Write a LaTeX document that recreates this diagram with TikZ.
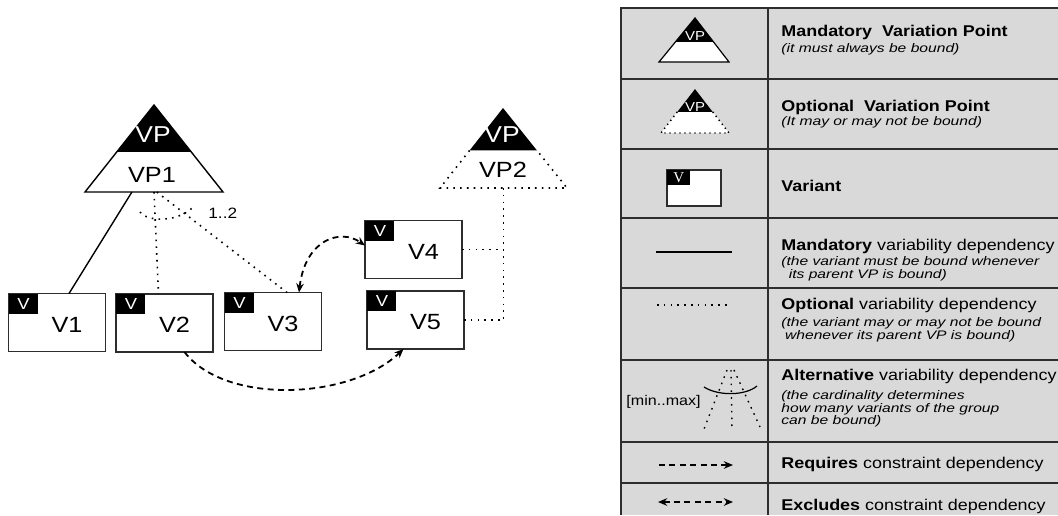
\documentclass[tikz,border=0pt]{standalone}
\usepackage{fontspec}
\setmainfont{Liberation Sans}[FakeStretch=1.15]
\newfontfamily\remarkfont{Liberation Sans}[FakeStretch=1.26]
\newfontfamily\legendserif{Liberation Serif}
\usetikzlibrary{arrows.meta,calc}
\definecolor{tablegray}{RGB}{217,217,217}
\definecolor{edgegray}{RGB}{45,45,45}
\lineskiplimit=-5pt
\tikzset{
  >={Stealth[length=4.6pt,width=3.8pt,inset=1.5pt]},
  variant/.style = {
    draw=edgegray, line width=0.8pt, fill=white,
    minimum width=48.5pt, minimum height=29pt,
    inner sep=0pt, outer sep=0pt
  },
  vtab/.style = {
    anchor=north west, fill=black, text=white, inner sep=0pt,
    minimum width=14.5pt, minimum height=10pt,
    font=\fontsize{8}{8}\selectfont
  },
  vname/.style = {anchor=center, xshift=5pt, yshift=-1pt, font=\fontsize{11}{11}\selectfont},
  vpmark/.style = {anchor=base, inner sep=0pt, text=white, font=\fontsize{11.5}{11.5}\selectfont},
  vpname/.style = {anchor=base, inner sep=0pt, font=\fontsize{11}{11}\selectfont},
  mandatory/.style = {line width=0.7pt},
  optional/.style = {line width=0.8pt, dash pattern=on 0.8pt off 2.6pt},
  requires/.style = {line width=0.9pt, dash pattern=on 3pt off 2.2pt, ->},
  excludes/.style = {line width=0.9pt, dash pattern=on 3pt off 2.2pt, <->},
  tableline/.style = {draw=edgegray, line width=1pt},
  headline/.style = {anchor=base west, inner sep=0pt, font=\fontsize{7.8}{7.8}\selectfont},
  % multi-line remarks sit on the baseline of their last line
  remark/.style = {
    anchor=base west, inner sep=0pt, align=left,
    font=\remarkfont\fontsize{6.2}{6.25}\selectfont\itshape
  }
}

\begin{document}
\begin{tikzpicture}[x=0.5pt,y=-0.5pt]
  \useasboundingbox (0,0) rectangle (1058,515);
  % legend table
  \fill[tablegray] (621,8) rectangle (1058,515);
  \draw[tableline] (1058,8) -- (621,8) -- (621,515);
  \draw[tableline] (768,8) -- (768,515);
  \foreach \y in {79,149,218,288,360,442,483} {%
    \draw[tableline] (621,\y) -- (1058,\y);
  }
  % VP1
  \coordinate (VP1) at (154,105);
  \coordinate (VP1l) at (85,192);
  \coordinate (VP1r) at (223,192);
  \filldraw[fill=white, line width=0.7pt] (VP1) -- (VP1l) -- (VP1r) -- cycle;
  \fill (VP1) -- ($(VP1)!0.54!(VP1l)$) -- ($(VP1)!0.54!(VP1r)$) -- cycle;
  \node[vpmark] (VP1tag) at (153,142) {VP};
  \node[vpname] (VP1name) at (152,182) {VP1};
  % VP2
  \coordinate (VP2) at (503,108);
  \coordinate (VP2l) at (440,188);
  \coordinate (VP2r) at (567,188);
  \fill (VP2) -- ($(VP2)!0.53!(VP2l)$) coordinate (VP2bl) -- ($(VP2)!0.53!(VP2r)$) coordinate (VP2br) -- cycle;
  \draw[optional] (VP2bl) -- (VP2l) -- (VP2r) -- (VP2br);
  \node[vpmark] (VP2tag) at (502,142) {VP};
  \node[vpname] (VP2name) at (503,177) {VP2};
  \coordinate (VP2b) at ($(VP2l)!0.5!(VP2r)$);
  % variants
  \node[variant, label={[vtab]north west:V}, label={[vname]center:V1}] (V1) at (57,322.5) {};
  \node[variant, label={[vtab]north west:V}, label={[vname]center:V2}] (V2) at (164.5,323) {};
  \node[variant, label={[vtab]north west:V}, label={[vname]center:V3}] (V3) at (273,321.5) {};
  \node[variant, label={[vtab]north west:V}, label={[vname]center:V4}] (V4) at (413.5,249.5) {};
  \node[variant, label={[vtab]north west:V}, label={[vname]center:V5}] (V5) at (415.5,320) {};
  % variability dependencies
  \draw[mandatory] ($(VP1l)!0.34!(VP1r)$) -- ($(V1.north)+(12,0)$);
  \draw[optional] ($(VP1l)!0.5!(VP1r)$) -- ($(V2.north)+(-6,0)$);
  \draw[optional] ($(VP1l)!0.52!(VP1r)$) -- ($(V3.north)+(14,0)$);
  \draw[optional] (140,212) .. controls (147,222) and (180,223) .. (195,205);
  \node[anchor=base west, inner sep=0pt, font=\fontsize{7.5}{7.5}\selectfont] (card) at (208,218) {1..2};
  \draw[optional] (VP2b) -- (VP2b |- V5.east) -- (V5.east);
  \draw[optional] (V4.east) -- (VP2b |- V4.east);
  % constraint dependencies
  \draw[requires] ($(V2.south)+(20,0)$) .. controls (225,405) and (350,400) .. ($(V5.south)+(-12,0)$);
  \draw[excludes] ($(V3.north)+(26,0)$) .. controls (305,240) and (340,228) .. ($(V4.west)+(0,-4)$);
  % legend symbols
  \coordinate (M) at (695,18);
  \coordinate (Ml) at (659,62);
  \coordinate (Mr) at (729,62);
  \filldraw[fill=white, line width=0.6pt] (M) -- (Ml) -- (Mr) -- cycle;
  \fill (M) -- ($(M)!0.545!(Ml)$) -- ($(M)!0.545!(Mr)$) -- cycle;
  \node[vpmark, font=\fontsize{6.5}{6.5}\selectfont] (Mtag) at (695,40.5) {VP};
  \coordinate (O) at (695,89);
  \coordinate (Ol) at (661,133);
  \coordinate (Or) at (729,133);
  \fill[white] (O) -- (Ol) -- (Or) -- cycle;
  \fill (O) -- ($(O)!0.52!(Ol)$) coordinate (Obl) -- ($(O)!0.52!(Or)$) coordinate (Obr) -- cycle;
  \draw[optional, line width=0.7pt, dash pattern=on 0.7pt off 1.8pt] (Obl) -- (Ol) -- (Or) -- (Obr);
  \node[vpmark, font=\fontsize{6.5}{6.5}\selectfont] (Otag) at (695,111) {VP};
  \node[variant, minimum width=27pt, minimum height=18pt,
    label={[vtab, minimum width=11.5pt, minimum height=7.5pt, font=\legendserif\fontsize{7.5}{7.5}\selectfont]north west:V}] (legV) at (694,188) {};
  \draw[mandatory] (656,252) -- (732,252);
  \draw[optional, line width=0.7pt] (657,305) -- (727,305);
  \node[anchor=base west, inner sep=0pt, font=\fontsize{7}{7}\selectfont] (minmax) at (626,405.5) {[min..max]};
  \draw[optional, line width=0.7pt] (727,370) -- (704,429);
  \draw[optional, line width=0.7pt] (731,370) -- (732,430);
  \draw[optional, line width=0.7pt] (734,370) -- (760,427);
  \draw[line width=0.6pt] (704,387) .. controls (718,396) and (745,396) .. (757,386);
  \draw[requires] (659,465) -- (733,465);
  \draw[excludes] (658,502) -- (733,502);
  % legend texts
  \node[headline] (L1) at (781,36) {\bfseries Mandatory\ \ Variation Point};
  \node[remark] (L1r) at (781,52) {(it must always be bound)};
  \node[headline] (L2) at (781,111) {\bfseries Optional\ \ Variation Point};
  \node[remark] (L2r) at (781,125.5) {(It may or may not be bound)};
  \node[headline] (L3) at (781,191.5) {\bfseries Variant};
  \node[headline] (L4) at (781,250) {\textbf{Mandatory} variability dependency};
  \node[remark] (L4r) at (781,278) {(the variant must be bound whenever\\\hspace*{0.6em}its parent VP is bound)};
  \node[headline] (L5) at (781,309.5) {\textbf{Optional} variability dependency};
  \node[remark] (L5r) at (781,339) {(the variant may or may not be bound\\\hspace*{0.3em}whenever its parent VP is bound)};
  \node[headline] (L6) at (781,380.3) {\textbf{Alternative} variability dependency};
  \node[remark] (L6r) at (781,424.7) {(the cardinality determines\\how many variants of the group\\can be bound)};
  \node[headline] (L7) at (781,468) {\textbf{Requires} constraint dependency};
  \node[headline] (L8) at (781,510) {\textbf{Excludes} constraint dependency};
\end{tikzpicture}
\end{document}
